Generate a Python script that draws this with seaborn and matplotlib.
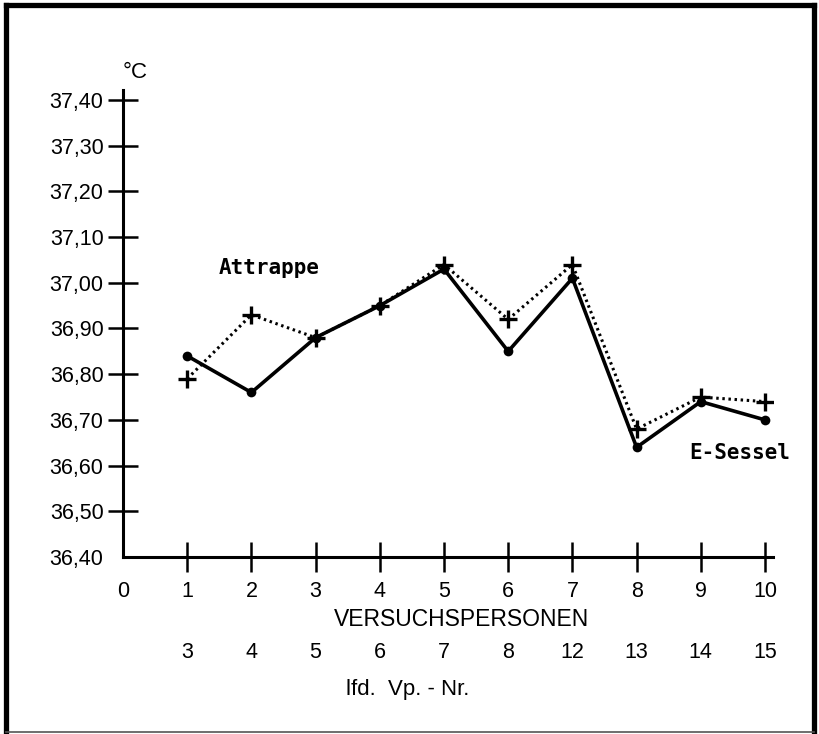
import matplotlib
matplotlib.use("Agg")
import matplotlib.pyplot as plt
import matplotlib.transforms as mtransforms
from matplotlib.lines import Line2D
import seaborn as sns
import pandas as pd

# Test persons (x position), running test number, and mean body temperature (°C)
persons = [1, 2, 3, 4, 5, 6, 7, 8, 9, 10]
vp_numbers = ["3", "4", "5", "6", "7", "8", "12", "13", "14", "15"]
temp_sessel = [36.84, 36.76, 36.88, 36.95, 37.03, 36.85, 37.01, 36.64, 36.74, 36.70]
temp_attrappe = [36.79, 36.93, 36.88, 36.95, 37.04, 36.92, 37.04, 36.68, 36.75, 36.74]

y_ticks = [36.40, 36.50, 36.60, 36.70, 36.80, 36.90, 37.00, 37.10, 37.20, 37.30, 37.40]
y_tick_labels = ["36,40", "36,50", "36,60", "36,70", "36,80", "36,90",
                 "37,00", "37,10", "37,20", "37,30", "37,40"]
x_ticks = [0, 1, 2, 3, 4, 5, 6, 7, 8, 9, 10]

sns.set_style("white")
plt.rcParams["font.family"] = ["Liberation Sans", "DejaVu Sans"]
plt.rcParams["text.color"] = "black"

W, H = 819, 734
fig = plt.figure(figsize=(W / 100, H / 100), dpi=100)
fig.patch.set_facecolor("white")

# axes placed in pixel terms
ax_left, ax_right = 123, 773
ax_bottom, ax_top = 557, 90
ax = fig.add_axes([ax_left / W, (H - ax_bottom) / H,
                   (ax_right - ax_left) / W, (ax_bottom - ax_top) / H])

df_s = pd.DataFrame({"x": persons, "t": temp_sessel})
df_a = pd.DataFrame({"x": persons, "t": temp_attrappe})

sns.lineplot(data=df_a, x="x", y="t", ax=ax, color="black", linewidth=2.2,
             linestyle=(0, (0.8, 1.2)), marker="+", markersize=13,
             markeredgewidth=2.4, markeredgecolor="black", zorder=3)
sns.lineplot(data=df_s, x="x", y="t", ax=ax, color="black", linewidth=2.6,
             marker="o", markersize=7, markeredgewidth=0, zorder=4)

ax.set_xlim(0, (ax_right - ax_left) / 64.2)
ax.set_ylim(36.40, 36.40 + (ax_bottom - ax_top) / 457)

for side in ["top", "right"]:
    ax.spines[side].set_visible(False)
for side in ["left", "bottom"]:
    ax.spines[side].set_linewidth(2.2)
    ax.spines[side].set_color("black")

ax.set_yticks(y_ticks)
ax.set_yticklabels(y_tick_labels)
ax.set_xticks(x_ticks)
ax.set_xticklabels([str(v) for v in x_ticks])
ax.tick_params(axis="both", direction="inout", length=22, width=1.8,
               colors="black", labelsize=15.5, pad=6, bottom=True, left=True)
ax.tick_params(axis="y", pad=3, labelsize=15.5)
# no tick marks at the origin corner
ax.xaxis.get_major_ticks()[0].tick1line.set_visible(False)
ax.yaxis.get_major_ticks()[0].tick1line.set_visible(False)

ax.set_xlabel("")
ax.set_ylabel("")

# unit label on top of the y axis
fig.text(123 / W, 1 - 72 / H, "°C", fontsize=16, ha="left", va="center",
         color="black")

# second row: running test-person number under each x position
trans = mtransforms.blended_transform_factory(ax.transData, fig.transFigure)
for xp, lab in zip(persons, vp_numbers):
    ax.text(xp, 1 - 653 / H, lab, transform=trans, ha="center", va="center",
            fontsize=15.5, color="black")

fig.text(462 / W, 1 - 619 / H, "VERSUCHSPERSONEN", ha="center", va="center",
         fontsize=16.5, color="black")
fig.text(408 / W, 1 - 690 / H, "lfd.  Vp. - Nr.", ha="center", va="center",
         fontsize=16, color="black")

# series names
ax.text(2.28, 1 - 268 / H, "Attrappe", transform=trans, ha="center", va="center",
        fontsize=15, family=["DejaVu Sans Mono"], fontweight="bold", color="black")
ax.text(9.6, 1 - 453 / H, "E-Sessel", transform=trans, ha="center", va="center",
        fontsize=15, family=["DejaVu Sans Mono"], fontweight="bold", color="black")

# frame around the figure
def px_line(x0, y0, x1, y1, lw, color="black"):
    fig.add_artist(Line2D([x0 / W, x1 / W], [1 - y0 / H, 1 - y1 / H],
                          transform=fig.transFigure, color=color, linewidth=lw,
                          solid_capstyle="projecting"))

px_line(5.5, 4.5, 813.5, 4.5, 3.8)
px_line(5.5, 4.5, 5.5, 731, 3.8)
px_line(813.5, 4.5, 813.5, 731, 3.8)
px_line(5.5, 731.5, 813.5, 731.5, 1.2, color="#555555")

fig.savefig("out.png", dpi=100, facecolor="white")
